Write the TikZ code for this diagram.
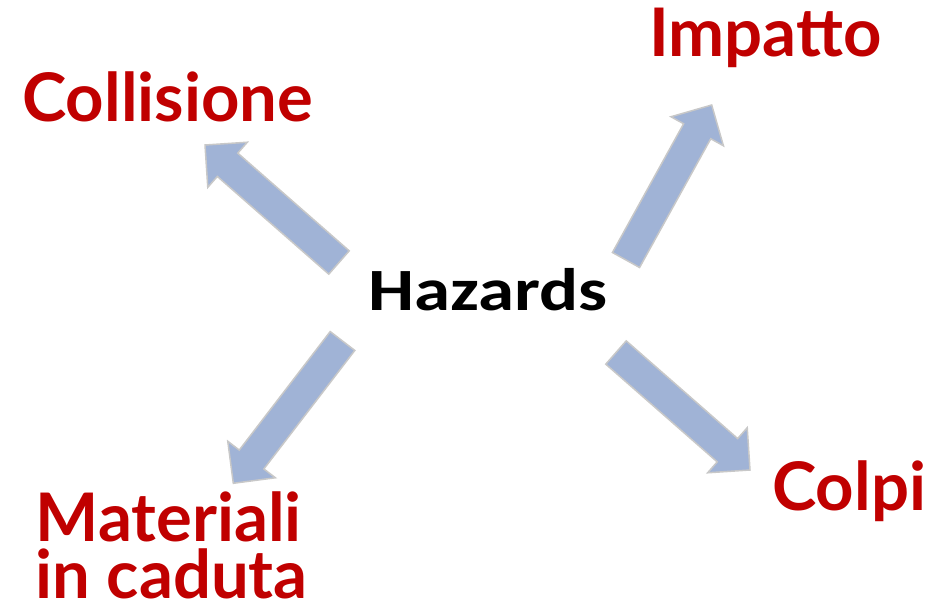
\documentclass[tikz,border=0pt]{standalone}
\usepackage{fontspec}
\usetikzlibrary{calc}
\newfontfamily\latofont{Lato}
\newfontfamily\carlitofont{Carlito}
\definecolor{hazred}{HTML}{C00000}
\definecolor{arrowblue}{HTML}{A0B3D6}
\definecolor{arrowgray}{HTML}{C8C8C8}
\tikzset{
  blockarrow/.style={fill=arrowblue,draw=arrowgray,line width=1.5pt,line join=miter},
  hazlabel/.style={inner sep=0pt,anchor=base west,text=hazred,font=\latofont\bfseries\fontsize{67}{56.6}\selectfont},
}
\newcommand{\blockarrow}[2]{%
  \coordinate (#1-n) at ($(#2)!30pt!(#1)$);
  \draw[blockarrow] ($(#1)!15.5pt!90:(#2)$) -- ($(#1-n)!15.5pt!90:(#2)$)
    -- ($(#1-n)!30pt!90:(#2)$) -- (#2) -- ($(#1-n)!30pt!-90:(#2)$)
    -- ($(#1-n)!15.5pt!-90:(#2)$) -- ($(#1)!15.5pt!-90:(#2)$) -- cycle;}
\begin{document}
\begin{tikzpicture}[x=1pt,y=-1pt]
			\useasboundingbox (0,0) rectangle (932,611);
			\coordinate (impT) at (626,260);
			\coordinate (impH) at (711.7,105);
			\coordinate (colT) at (339,262.5);
			\coordinate (colH) at (205,145);
			\coordinate (matT) at (342.5,341);
			\coordinate (matH) at (233.3,483.3);
			\coordinate (cplT) at (616,352.5);
			\coordinate (cplH) at (750,470);

			\blockarrow{impT}{impH}
			\blockarrow{colT}{colH}
			\blockarrow{matT}{matH}
			\blockarrow{cplT}{cplH}

			\node[inner sep=0pt,anchor=base west,xscale=1.215,font=\carlitofont\bfseries\fontsize{60}{62}\selectfont] (haz) at (368,310) {Hazards};
			\node[hazlabel] (coll) at (22,121.7) {Collisione};
			\node[hazlabel] (imp) at (649,56.7) {Impatto};
			\node[hazlabel] (colp) at (772,510) {Colpi};
			\node[hazlabel,align=left] (mat) at (35.5,598.3) {Materiali\\in caduta};
		    \end{tikzpicture}
\end{document}
